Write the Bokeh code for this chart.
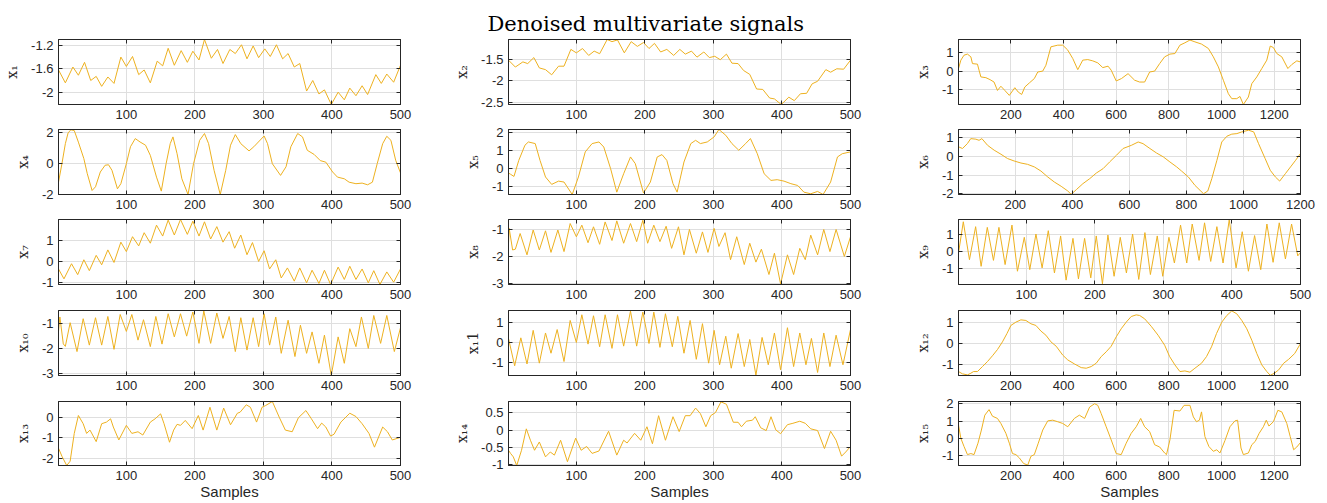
from bokeh.plotting import figure
from bokeh.layouts import gridplot
from bokeh.models import Range1d, FixedTicker, LinearAxis, CustomJSTickFormatter, Title
from bokeh.embed import file_html
from bokeh.resources import INLINE

TITLE = "Denoised multivariate signals"
XLABEL = "Samples"
NAMES = ["x₁", "x₂", "x₃", "x₄", "x₅", "x₆", "x₇", "x₈", "x₉", "x₁₀", "x₁1", "x₁₂", "x₁₃", "x₁₄", "x₁₅"]

XT500 = [100, 200, 300, 400, 500]
XT1300 = [200, 400, 600, 800, 1000, 1200]
XMAX = [500, 500, 1300, 500, 500, 1200, 500, 500, 500, 500, 500, 1300, 500, 500, 1300]

YLIM = [(-2.21, -1.10), (-2.55, -1.04), (-1.83, 1.73),
        (-2.0, 2.22), (-1.43, 2.17), (-2.04, 1.45),
        (-1.11, 1.99), (-3.04, -0.63), (-1.89, 1.83),
        (-3.07, -0.46), (-1.64, 1.57), (-1.54, 1.59),
        (-2.35, 0.76), (-1.02, 0.83), (-1.57, 2.13)]
YTICKS = [[-2, -1.6, -1.2], [-2.5, -2, -1.5], [-1, 0, 1],
          [-2, 0, 2], [-1, 0, 1, 2], [-2, -1, 0, 1],
          [-1, 0, 1], [-3, -2, -1], [-1, 0, 1],
          [-3, -2, -1], [-1, 0, 1], [-1, 0, 1],
          [-2, -1, 0], [-1, -0.5, 0, 0.5], [-1, 0, 1, 2]]

x1 = [(1,-1.62),(11,-1.84),(22,-1.57),(30,-1.71),(39,-1.49),(48,-1.80),(56,-1.73),(64,-1.90),(73,-1.74),(82,-1.85),
      (92,-1.40),(100,-1.56),(109,-1.39),(118,-1.70),(126,-1.62),(135,-1.84),(145,-1.47),(153,-1.55),(161,-1.25),(170,-1.54),
      (180,-1.29),(189,-1.49),(197,-1.30),(206,-1.45),(214,-1.10),(224,-1.42),(233,-1.27),(241,-1.51),(251,-1.27),(259,-1.34),
      (268,-1.19),(276,-1.43),(285,-1.21),(293,-1.41),(302,-1.26),(310,-1.39),(319,-1.19),(328,-1.43),(336,-1.34),(345,-1.57),
      (353,-1.51),(363,-1.98),(372,-1.80),(381,-2.03),(389,-1.96),(399,-2.21),(409,-2.00),(418,-2.13),(426,-1.93),(435,-2.06),
      (444,-1.89),(452,-2.04),(464,-1.70),(472,-1.85),(480,-1.69),(490,-1.83),(500,-1.54)]
x2 = [(1,-1.52),(11,-1.68),(22,-1.56),(29,-1.60),(38,-1.46),(46,-1.70),(55,-1.74),(64,-1.86),(74,-1.66),(82,-1.66),
      (92,-1.27),(100,-1.35),(109,-1.25),(118,-1.41),(126,-1.31),(134,-1.37),(145,-1.04),(152,-1.09),(160,-1.05),(170,-1.35),
      (180,-1.09),(189,-1.20),(198,-1.11),(206,-1.25),(214,-1.13),(223,-1.33),(232,-1.27),(242,-1.41),(251,-1.27),(259,-1.38),
      (268,-1.31),(276,-1.45),(286,-1.33),(294,-1.46),(302,-1.43),(310,-1.51),(319,-1.38),(327,-1.59),(336,-1.60),(344,-1.76),
      (353,-1.85),(363,-2.19),(372,-2.20),(382,-2.40),(389,-2.42),(399,-2.55),(410,-2.38),(418,-2.46),(427,-2.30),(436,-2.29),
      (444,-2.07),(452,-2.01),(464,-1.74),(471,-1.80),(480,-1.72),(490,-1.73),(500,-1.52)]
x3 = [(1,0.14),(10,0.6),(22,0.87),(35,0.93),(48,0.78),(54,0.41),(73,0.38),(79,0.05),(86,-0.32),(105,-0.36),
      (121,-0.47),(136,-0.6),(149,-1.06),(162,-0.83),(177,-1.06),(194,-1.33),(215,-0.91),(228,-1.15),(241,-1.28),(253,-0.87),
      (270,-0.65),(289,-0.41),(302,-0.05),(321,0.0),(333,0.32),(352,1.33),(378,1.42),(397,1.42),(416,1.15),(435,0.69),
      (454,0.08),(473,0.6),(492,0.63),(511,0.56),(530,0.45),(549,0.19),(569,0.27),(581,0.05),(600,-0.54),(620,-0.41),
      (645,-0.14),(670,-0.5),(689,-0.6),(708,-0.6),(727,-0.05),(746,0.0),(765,0.41),(784,0.78),(804,0.93),(823,0.96),
      (842,1.42),(861,1.55),(880,1.7),(899,1.6),(924,1.48),(950,1.24),(969,0.78),(988,0.23),(1007,-0.5),(1026,-1.24),
      (1039,-1.51),(1058,-1.51),(1070,-1.39),(1083,-1.83),(1102,-1.42),(1115,-0.69),(1134,-0.32),(1153,0.14),(1172,0.6),(1185,1.37),
      (1197,1.29),(1210,0.96),(1229,0.78),(1252,0.14),(1267,0.36),(1286,0.56),(1300,0.5)]
x4 = [(1,-1.2),(6,0.0),(11,1.3),(15,2.0),(19,2.2),(24,2.15),(30,1.4),(38,0.33),(43,-0.65),(50,-1.74),
      (55,-1.5),(62,-0.54),(69,-0.1),(74,-0.07),(79,-0.43),(87,-1.63),(92,-1.3),(100,0.0),(106,1.1),(113,1.63),
      (120,1.41),(128,1.2),(135,0.54),(144,-0.87),(151,-1.78),(158,0.0),(164,1.3),(168,1.74),(174,0.65),(181,-0.98),
      (190,-2.0),(198,0.0),(207,1.52),(214,1.96),(220,1.3),(228,-0.43),(237,-2.0),(245,-0.43),(252,1.2),(259,1.89),
      (267,1.3),(279,0.83),(286,1.1),(301,1.8),(306,1.3),(313,0.0),(325,-0.76),(333,-0.2),(340,1.1),(350,1.96),
      (357,1.74),(364,0.87),(374,0.6),(383,0.2),(391,0.1),(401,-0.54),(408,-0.87),(418,-0.98),(425,-1.2),(435,-1.3),
      (444,-1.26),(452,-1.37),(459,-1.2),(466,0.0),(474,1.3),(480,1.78),(486,1.52),(493,0.22),(500,-0.6)]
x5 = [(1,-0.24),(4,-0.31),(9,-0.43),(16,0.46),(25,1.3),(30,1.48),(40,1.39),(47,0.46),(55,-0.46),(64,-0.87),
      (74,-0.69),(82,-0.74),(94,-1.43),(103,-0.46),(113,0.93),(123,1.39),(133,1.48),(140,1.2),(150,0.0),(159,-1.3),
      (169,-0.28),(179,0.65),(186,0.28),(198,-1.35),(208,-0.74),(218,0.65),(225,0.78),(232,0.46),(241,-0.83),(247,-1.3),
      (257,0.37),(267,1.39),(274,1.57),(281,1.39),(291,1.48),(301,1.76),(308,2.17),(318,1.85),(327,1.39),(337,1.02),
      (347,1.39),(354,1.67),(364,0.83),(374,-0.28),(384,-0.65),(393,-0.61),(403,-0.69),(413,-0.83),(423,-0.93),(432,-1.3),
      (442,-1.39),(452,-1.26),(460,-1.43),(471,-0.74),(481,0.65),(488,0.83),(500,0.93)]
x6 = [(1,0.52),(15,0.43),(32,0.69),(44,0.96),(62,0.93),(73,0.87),(83,0.96),(103,0.6),(126,0.34),(150,0.12),
      (173,-0.11),(196,-0.24),(220,-0.35),(243,-0.42),(267,-0.56),(290,-0.78),(314,-1.1),(337,-1.37),(361,-1.6),(384,-1.85),
      (396,-2.03),(414,-1.78),(437,-1.46),(461,-1.19),(484,-0.89),(508,-0.65),(531,-0.29),(555,0.07),(578,0.43),(607,0.6),
      (631,0.78),(648,0.69),(672,0.43),(695,0.19),(719,-0.02),(742,-0.29),(766,-0.56),(783,-0.78),(807,-1.1),(830,-1.55),
      (848,-1.82),(860,-2.0),(875,-1.85),(889,-1.19),(907,-0.2),(924,0.78),(942,1.09),(959,1.2),(977,1.23),(994,1.32),
      (1018,1.41),(1036,1.32),(1053,0.69),(1076,-0.11),(1094,-0.74),(1112,-1.1),(1127,-1.32),(1147,-0.92),(1165,-0.56),(1183,-0.2),
      (1200,0.16)]
x7 = [(1,-0.37),(9,-0.84),(20,-0.12),(29,-0.64),(38,0.07),(46,-0.45),(56,0.28),(64,-0.17),(73,0.54),(82,-0.06),
      (92,0.91),(100,0.46),(109,1.17),(118,0.73),(126,1.36),(135,0.86),(144,1.72),(153,1.2),(161,1.96),(170,1.25),
      (179,1.99),(189,1.28),(197,1.91),(206,1.2),(214,1.88),(223,1.06),(232,1.65),(241,0.91),(250,1.41),(258,0.62),
      (267,1.25),(276,0.31),(284,0.89),(293,-0.01),(301,0.5),(309,-0.37),(318,0.07),(326,-0.8),(335,-0.32),(345,-0.95),
      (353,-0.32),(363,-1.03),(371,-0.43),(381,-1.06),(389,-0.43),(398,-1.11),(409,-0.28),(418,-0.87),(426,-0.24),(435,-0.87),
      (444,-0.37),(453,-1.03),(461,-0.45),(470,-1.11),(480,-0.51),(490,-1.0),(500,-0.37)]
x8 = [(1,-1.51),(2,-0.96),(7,-1.76),(11,-1.73),(18,-1.15),(28,-1.94),(37,-1.02),(46,-1.76),(55,-1.05),(63,-1.85),
      (73,-1.02),(82,-1.82),(91,-0.78),(100,-1.27),(108,-0.84),(117,-1.49),(125,-0.90),(134,-1.55),(142,-0.72),(152,-1.41),
      (159,-0.68),(169,-1.51),(179,-0.78),(188,-1.45),(197,-0.66),(204,-1.51),(213,-0.84),(222,-1.45),(231,-0.88),(239,-1.70),
      (249,-0.90),(257,-1.94),(265,-1.0),(275,-1.88),(284,-1.09),(292,-1.85),(301,-0.96),(308,-1.63),(317,-1.12),(325,-2.12),
      (334,-1.27),(345,-2.30),(353,-1.51),(362,-2.21),(370,-1.73),(381,-2.67),(389,-1.88),(398,-3.02),(408,-1.94),(417,-2.67),
      (426,-1.70),(434,-2.12),(442,-1.21),(452,-1.94),(461,-1.0),(470,-1.82),(479,-1.0),(491,-2.0),(500,-1.27)]
x9 = [(1,-0.09),(8,1.7),(17,-0.47),(26,1.42),(34,-0.85),(43,1.38),(52,-0.51),(60,1.38),(69,-0.75),(79,1.51),
      (87,-1.13),(97,0.81),(105,-1.04),(114,1.0),(123,-0.94),(132,1.19),(141,-1.23),(150,0.89),(158,-1.64),(168,0.75),
      (176,-1.57),(185,0.75),(194,-1.51),(202,0.89),(211,-1.85),(219,0.94),(228,-1.42),(237,0.81),(246,-1.23),(255,1.0),
      (264,-1.6),(273,1.08),(281,-1.32),(291,0.89),(299,-1.42),(308,0.81),(316,-0.66),(325,1.51),(334,-0.66),(342,1.57),
      (352,-0.51),(360,1.64),(369,-0.57),(378,1.42),(387,-0.66),(396,1.81),(406,-0.94),(415,1.13),(424,-1.13),(433,0.91),
      (442,-1.04),(451,1.57),(460,-0.62),(469,1.64),(478,-0.43),(487,1.57),(496,-0.25),(500,-0.06)]
x10 = [(1,-1.3),(3,-0.72),(8,-1.8),(11,-1.9),(18,-0.95),(28,-2.11),(37,-0.79),(46,-1.85),(55,-0.75),(64,-1.85),
       (73,-0.7),(82,-2.02),(91,-0.62),(100,-1.3),(108,-0.62),(117,-1.65),(125,-0.83),(135,-1.91),(143,-0.7),(152,-1.81),
       (161,-0.59),(170,-1.52),(179,-0.59),(188,-1.49),(197,-0.52),(206,-1.78),(213,-0.48),(223,-1.78),(232,-0.56),(241,-1.58),
       (250,-0.7),(259,-2.11),(267,-0.75),(276,-2.05),(285,-0.75),(293,-1.91),(301,-0.59),(309,-1.85),(318,-0.72),(326,-2.18),
       (336,-0.85),(346,-2.31),(354,-1.05),(363,-2.18),(371,-1.32),(381,-2.58),(389,-1.45),(399,-3.07),(409,-1.52),(418,-2.58),
       (426,-1.19),(435,-1.91),(443,-0.72),(453,-1.98),(461,-0.66),(471,-1.78),(480,-0.66),(491,-2.11),(500,-1.15)]
x11 = [(1,0.19),(10,-1.16),(19,0.22),(28,-1.07),(37,0.59),(46,-1.03),(55,0.46),(63,-0.54),(72,0.63),(82,-0.95),
       (91,1.08),(100,-0.01),(108,1.36),(117,-0.09),(125,1.31),(134,-0.22),(142,1.36),(152,-0.3),(160,1.36),(169,-0.19),
       (179,1.54),(188,-0.19),(197,1.49),(206,-0.06),(213,1.49),(222,-0.25),(230,1.41),(240,-0.22),(248,1.28),(257,-0.54),
       (266,1.08),(275,-0.84),(284,0.92),(293,-1.03),(301,0.59),(309,-1.11),(318,0.30),(326,-1.28),(336,0.43),(345,-1.2),
       (353,0.14),(362,-1.62),(371,0.24),(380,-1.11),(389,0.46),(398,-1.36),(408,0.72),(417,-1.2),(426,0.46),(435,-1.11),
       (443,0.19),(452,-1.49),(461,0.46),(470,-1.2),(479,0.35),(489,-1.11),(500,0.63)]
x12 = [(1,-1.35),(16,-1.46),(35,-1.51),(48,-1.43),(58,-1.35),(73,-1.35),(92,-1.11),(111,-0.87),(130,-0.59),(149,-0.29),
       (168,0.08),(185,0.48),(200,0.87),(219,1.03),(238,1.14),(257,1.11),(276,0.95),(295,0.87),(314,0.6),(333,0.4),
       (352,0.08),(372,-0.13),(397,-0.56),(416,-0.79),(441,-0.98),(467,-1.16),(486,-1.19),(505,-1.11),(524,-0.95),(543,-0.63),
       (562,-0.4),(581,-0.13),(600,0.32),(619,0.71),(638,1.03),(657,1.3),(676,1.38),(689,1.35),(708,1.19),(733,0.83),
       (759,0.4),(784,-0.08),(803,-0.63),(823,-1.03),(842,-1.35),(861,-1.32),(880,-1.38),(899,-1.19),(924,-0.95),(943,-0.63),
       (962,-0.16),(981,0.48),(1001,1.03),(1020,1.35),(1039,1.57),(1058,1.43),(1077,1.11),(1096,0.71),(1115,0.16),(1134,-0.48),
       (1153,-1.03),(1172,-1.35),(1185,-1.53),(1201,-1.43),(1217,-1.27),(1236,-0.95),(1255,-0.76),(1278,-0.48),(1300,0.0)]
x13 = [(1,-1.51),(6,-1.9),(13,-2.35),(18,-2.14),(24,-0.79),(30,0.08),(37,-0.32),(42,-0.79),(47,-0.63),(56,-1.19),
       (64,-0.32),(71,-0.24),(77,-0.08),(81,-0.48),(89,-1.11),(100,-0.4),(108,-0.79),(117,-0.71),(124,-0.87),(135,-0.24),
       (142,-0.08),(150,0.16),(155,-0.32),(163,-1.22),(169,-0.63),(174,-0.35),(179,-0.4),(186,-0.16),(196,-0.56),(205,0.08),
       (212,-0.63),(222,0.48),(232,-0.63),(242,0.44),(252,-0.37),(262,0.19),(266,0.24),(275,0.6),(281,0.48),(290,-0.24),
       (298,0.48),(303,0.56),(313,0.76),(323,0.0),(332,-0.63),(342,-0.71),(351,-0.03),(362,0.32),(370,-0.08),(379,-0.56),
       (385,-0.29),(391,-0.48),(398,-0.92),(403,-0.83),(413,-0.24),(426,0.19),(435,0.03),(444,-0.32),(454,-0.79),(462,-1.46),
       (474,-0.48),(481,-0.71),(488,-1.11),(500,-0.98)]
x14 = [(1,-0.58),(4,-0.67),(8,-0.77),(13,-1.02),(20,-0.58),(27,0.04),(33,-0.29),(39,-0.58),(46,-0.34),(55,-0.77),
       (62,-0.63),(68,-0.72),(77,-0.29),(87,-0.91),(99,-0.23),(107,-0.58),(115,-0.47),(123,-0.67),(133,-0.6),(147,-0.03),
       (159,-0.72),(169,-0.29),(174,-0.37),(185,-0.09),(194,-0.29),(203,0.1),(211,-0.39),(220,0.42),(230,-0.29),(241,0.39),
       (250,-0.04),(259,0.42),(266,0.42),(274,0.64),(281,0.48),(289,0.1),(296,0.42),(303,0.51),(311,0.82),(319,0.75),
       (329,0.23),(336,0.23),(341,0.1),(348,0.26),(357,0.29),(361,0.39),(369,0.07),(377,-0.01),(384,0.39),(391,0.01),
       (398,-0.1),(408,0.16),(416,0.2),(426,0.26),(434,0.2),(442,0.04),(452,-0.01),(462,-0.53),(471,-0.03),(479,-0.29),
       (487,-0.75),(493,-0.63),(500,-0.47)]
x15 = [(1,0.77),(10,0.0),(22,-0.47),(35,-0.94),(48,-0.88),(60,-0.94),(75,-0.28),(88,0.48),(101,1.34),(117,1.66),
       (130,1.28),(149,1.15),(162,0.86),(181,0.29),(194,-0.28),(206,-0.88),(219,-0.94),(232,-1.13),(248,-1.45),(264,-1.55),
       (276,-1.04),(289,-0.94),(304,-0.28),(321,0.48),(340,1.01),(359,1.05),(378,0.96),(397,0.86),(416,0.67),(441,1.15),
       (460,1.34),(480,1.15),(499,1.81),(518,2.0),(530,1.91),(543,1.43),(562,0.67),(581,-0.09),(600,-0.88),(619,-0.94),
       (638,-0.28),(657,0.29),(676,0.67),(693,1.15),(708,0.67),(727,0.39),(746,-0.37),(765,-0.5),(784,-0.85),(791,-0.94),
       (804,-0.09),(820,1.62),(842,1.58),(858,1.91),(880,1.91),(893,1.24),(905,0.96),(916,1.05),(924,1.53),(937,0.1),
       (952,-0.47),(969,-0.75),(982,-0.66),(994,-0.85),(1013,-0.13),(1032,0.67),(1051,1.01),(1061,1.05),(1074,-0.56),(1083,-0.94),
       (1102,-0.85),(1115,-0.37),(1128,-0.18),(1143,0.29),(1159,0.67),(1170,1.05),(1180,0.71),(1197,0.96),(1214,1.62),(1229,1.53),
       (1248,0.86),(1261,0.1),(1274,-0.66),(1286,-0.5),(1300,-0.24)]

SIGNALS = [x1, x2, x3, x4, x5, x6, x7, x8, x9, x10, x11, x12, x13, x14, x15]

LINE = "#EDB120"
INK = "#262626"
GRID = "#DFDFDF"
FW, FH = 342, 65
TOPS = [39, 5, 5, 5, 5]
BOTTOMS = [20, 20, 21, 21, 36]
RIGHTS = [50, 50, 24]


def fmt():
    return CustomJSTickFormatter(code="return String(tick);")


def make(k):
    i, j = divmod(k, 3)
    left, right, top, bottom = 58, RIGHTS[j], TOPS[i], BOTTOMS[i]
    xt = XT500 if XMAX[k] == 500 else XT1300
    yt = YTICKS[k]
    p = figure(width=left + FW + right, height=top + FH + bottom,
               x_range=Range1d(1, XMAX[k]), y_range=Range1d(*YLIM[k]),
               output_backend="svg", toolbar_location=None, title=None,
               min_border_left=left, min_border_right=right,
               min_border_top=top, min_border_bottom=bottom)
    p.background_fill_color = "white"
    p.border_fill_color = "white"
    p.outline_line_color = INK
    p.outline_line_width = 1
    p.outline_line_alpha = 1

    # mirrored inward ticks on the top and right edges (no labels)
    ax_top = LinearAxis(ticker=FixedTicker(ticks=xt), major_label_text_font_size="1px",
                        major_label_text_color=None, major_label_standoff=0)
    ax_right = LinearAxis(ticker=FixedTicker(ticks=yt), major_label_text_font_size="1px",
                          major_label_text_color=None, major_label_standoff=0)
    p.add_layout(ax_top, "above")
    p.add_layout(ax_right, "right")

    p.xaxis.ticker = FixedTicker(ticks=xt)
    p.yaxis.ticker = FixedTicker(ticks=yt)
    p.xgrid.ticker = FixedTicker(ticks=xt)
    p.ygrid.ticker = FixedTicker(ticks=yt)
    p.grid.grid_line_color = GRID
    p.grid.grid_line_width = 1

    for ax in p.axis:
        ax.axis_line_color = INK
        ax.major_tick_line_color = INK
        ax.major_tick_in = 4
        ax.major_tick_out = 0
        ax.minor_tick_line_color = None
    bx, lx = p.below[0], p.left[0]
    for ax in (bx, lx):
        ax.formatter = fmt()
        ax.major_label_text_font = "Liberation Sans"
        ax.major_label_text_font_size = "13px"
        ax.major_label_text_color = INK
    bx.major_label_standoff = 5
    lx.major_label_standoff = 5

    lx.axis_label = NAMES[k]
    lx.axis_label_text_font = "DejaVu Serif"
    lx.axis_label_text_font_size = "14px"
    lx.axis_label_text_font_style = "normal"
    lx.axis_label_text_color = INK
    lx.axis_label_standoff = 8

    if i == 4:
        bx.axis_label = XLABEL
        bx.axis_label_text_font = "Liberation Sans"
        bx.axis_label_text_font_size = "15px"
        bx.axis_label_text_font_style = "normal"
        bx.axis_label_text_color = INK
        bx.axis_label_standoff = 0

    if k == 1:
        p.add_layout(Title(text=TITLE, align="left", offset=-21, standoff=8,
                           text_font="DejaVu Serif", text_font_size="21px",
                           text_font_style="normal", text_color="black"), "above")

    ts = [t for t, v in SIGNALS[k]]
    vs = [v for t, v in SIGNALS[k]]
    p.line(ts, vs, line_color=LINE, line_width=1, line_join="round")
    return p


figs = [make(k) for k in range(15)]
grid = gridplot([figs[r * 3:(r + 1) * 3] for r in range(5)], toolbar_location=None)
open("out.html", "w").write(file_html(grid, INLINE))
